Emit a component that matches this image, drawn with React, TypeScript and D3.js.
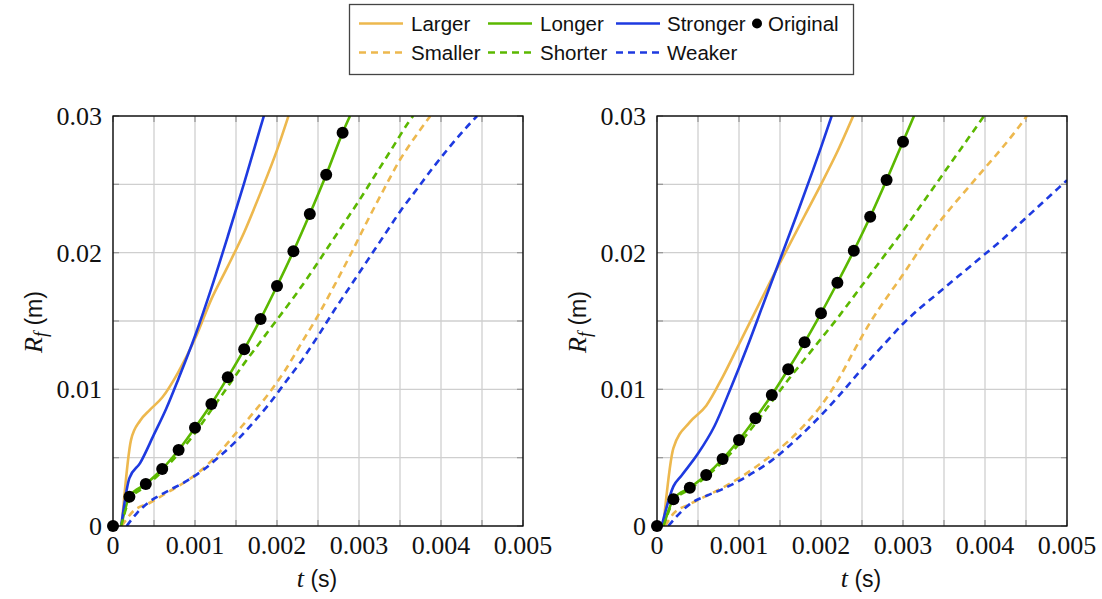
import React from "react";
import * as d3 from "d3";

type P = [number, number];

// ---------- data (t in s, R_f in m) ----------
const xTickValues = [0, 0.001, 0.002, 0.003, 0.004, 0.005];
const xTickLabels = ["0", "0.001", "0.002", "0.003", "0.004", "0.005"];
const yTickValues = [0, 0.01, 0.02, 0.03];
const yTickLabels = ["0", "0.01", "0.02", "0.03"];
const xGridValues = [0, 0.0005, 0.001, 0.0015, 0.002, 0.0025, 0.003, 0.0035, 0.004, 0.0045, 0.005];
const yGridValues = [0, 0.005, 0.01, 0.015, 0.02, 0.025, 0.03];

const seriesNames = ["Larger", "Longer", "Stronger", "Smaller", "Shorter", "Weaker"];

// left panel
const originalTimesL = [0, 0.0002, 0.0004, 0.0006, 0.0008, 0.001, 0.0012, 0.0014, 0.0016, 0.0018, 0.002, 0.0022, 0.0024, 0.0026, 0.0028];
const originalValuesL = [0, 0.00214, 0.00307, 0.00417, 0.00556, 0.00719, 0.00893, 0.01088, 0.01293, 0.01515, 0.01756, 0.0201, 0.02283, 0.0257, 0.02878];
const largerL: P[] = [[0.000106, 0], [0.00022, 0.0063], [0.00033, 0.0077], [0.00045, 0.0085], [0.0006, 0.0094], [0.0008, 0.0113], [0.001, 0.0137], [0.0012, 0.0166], [0.0014, 0.019], [0.0016, 0.0215], [0.0018, 0.0244], [0.002, 0.0275], [0.00214, 0.03]];
const longerL: P[] = [[0.0001, 0], [0.0002, 0.00214], [0.0004, 0.00307], [0.0006, 0.00417], [0.0008, 0.00556], [0.001, 0.00719], [0.0012, 0.00893], [0.0014, 0.01088], [0.0016, 0.01293], [0.0018, 0.01515], [0.002, 0.01756], [0.0022, 0.0201], [0.0024, 0.02283], [0.0026, 0.0257], [0.0028, 0.02878], [0.00289, 0.03]];
const strongerL: P[] = [[0.0001, 0], [0.0002, 0.0035], [0.00033, 0.0046], [0.0005, 0.0067], [0.00065, 0.0086], [0.0008, 0.0108], [0.001, 0.0139], [0.0012, 0.0174], [0.0014, 0.0212], [0.0016, 0.0251], [0.0018, 0.0292], [0.00184, 0.03]];
const smallerL: P[] = [[0.000106, 0], [0.00025, 0.0011], [0.00045, 0.0017], [0.00065, 0.0024], [0.0009, 0.0033], [0.0011, 0.0042], [0.0013, 0.0054], [0.0015, 0.0068], [0.0017, 0.0082], [0.0019, 0.0097], [0.0021, 0.0114], [0.0023, 0.0134], [0.0025, 0.0154], [0.0027, 0.0176], [0.0029, 0.0199], [0.0031, 0.0223], [0.0033, 0.0246], [0.0035, 0.0268], [0.0037, 0.0286], [0.00387, 0.03]];
const shorterL: P[] = [[0.0001, 0], [0.0002, 0.0019], [0.0004, 0.0029], [0.0006, 0.004], [0.0008, 0.0053], [0.001, 0.0068], [0.0012, 0.0085], [0.0014, 0.0102], [0.0016, 0.0119], [0.0018, 0.0135], [0.002, 0.0151], [0.0022, 0.0167], [0.0024, 0.0184], [0.0026, 0.0202], [0.0028, 0.022], [0.003, 0.0238], [0.0032, 0.0257], [0.0034, 0.0276], [0.0036, 0.0295], [0.00366, 0.03]];
const weakerL: P[] = [[0.000167, 0], [0.0003, 0.001], [0.00045, 0.0018], [0.00065, 0.0025], [0.0009, 0.0033], [0.0011, 0.0041], [0.0013, 0.0051], [0.0015, 0.0062], [0.0017, 0.0075], [0.0019, 0.0089], [0.0021, 0.0105], [0.0023, 0.0121], [0.0025, 0.0139], [0.0027, 0.0158], [0.0029, 0.0176], [0.0031, 0.0194], [0.0033, 0.0212], [0.0035, 0.023], [0.0037, 0.0246], [0.0039, 0.0262], [0.0041, 0.0277], [0.0043, 0.0291], [0.00444, 0.03]];

// right panel
const originalTimesR = [0, 0.0002, 0.0004, 0.0006, 0.0008, 0.001, 0.0012, 0.0014, 0.0016, 0.0018, 0.002, 0.0022, 0.0024, 0.0026, 0.0028, 0.003];
const originalValuesR = [0, 0.00195, 0.0028, 0.00373, 0.0049, 0.00629, 0.00788, 0.00959, 0.01147, 0.01344, 0.01556, 0.0178, 0.02014, 0.02263, 0.02532, 0.02812];
const largerR: P[] = [[0.000077, 0], [0.0002, 0.0057], [0.0004, 0.0076], [0.0006, 0.0088], [0.0008, 0.0109], [0.001, 0.0133], [0.0012, 0.0157], [0.0014, 0.0181], [0.0016, 0.0204], [0.0018, 0.0227], [0.002, 0.025], [0.0022, 0.0274], [0.0024, 0.0301]];
const longerR: P[] = [[0.00008, 0], [0.0002, 0.00195], [0.0004, 0.0028], [0.0006, 0.00373], [0.0008, 0.0049], [0.001, 0.00629], [0.0012, 0.00788], [0.0014, 0.00959], [0.0016, 0.01147], [0.0018, 0.01344], [0.002, 0.01556], [0.0022, 0.0178], [0.0024, 0.02014], [0.0026, 0.02263], [0.0028, 0.02532], [0.003, 0.02812], [0.003134, 0.03]];
const strongerR: P[] = [[0.000057, 0], [0.0002, 0.0029], [0.0003, 0.0037], [0.0005, 0.0053], [0.0007, 0.0073], [0.0009, 0.0101], [0.0011, 0.0131], [0.0013, 0.0163], [0.0015, 0.0195], [0.0017, 0.0227], [0.0019, 0.026], [0.002, 0.0277], [0.00213, 0.03]];
const smallerR: P[] = [[0.0001, 0], [0.0002, 0.0009], [0.0004, 0.0016], [0.0006, 0.0022], [0.0008, 0.0028], [0.001, 0.0035], [0.0012, 0.0043], [0.0014, 0.0052], [0.0016, 0.0062], [0.0018, 0.0074], [0.002, 0.0088], [0.0022, 0.0106], [0.0024, 0.0128], [0.0026, 0.0149], [0.0028, 0.0167], [0.003, 0.0184], [0.0032, 0.0202], [0.0034, 0.0219], [0.0036, 0.0234], [0.0038, 0.0248], [0.004, 0.0262], [0.0042, 0.0276], [0.0044, 0.0291], [0.00451, 0.03]];
const shorterR: P[] = [[0.00008, 0], [0.0002, 0.0018], [0.0004, 0.0027], [0.0006, 0.0036], [0.0008, 0.0047], [0.001, 0.006], [0.0012, 0.0075], [0.0014, 0.0091], [0.0016, 0.0107], [0.0018, 0.0122], [0.002, 0.0137], [0.0022, 0.0152], [0.0024, 0.0168], [0.0026, 0.0184], [0.0028, 0.02], [0.003, 0.0216], [0.0032, 0.0233], [0.0034, 0.025], [0.0036, 0.0267], [0.0038, 0.0284], [0.004, 0.0301]];
const weakerR: P[] = [[0.000138, 0], [0.00024, 0.0007], [0.0004, 0.0016], [0.0006, 0.0022], [0.0008, 0.0027], [0.001, 0.0033], [0.0012, 0.004], [0.0014, 0.0048], [0.0016, 0.0058], [0.0018, 0.0069], [0.002, 0.0081], [0.0022, 0.0094], [0.0024, 0.0108], [0.0026, 0.0122], [0.0028, 0.0135], [0.003, 0.0148], [0.0032, 0.0159], [0.0034, 0.0169], [0.0036, 0.0179], [0.0038, 0.0189], [0.004, 0.0199], [0.0042, 0.0209], [0.0044, 0.022], [0.0046, 0.0231], [0.0048, 0.0242], [0.005, 0.0253]];

// ---------- styles ----------
const YELLOW = "#EDB84E";
const GREEN = "#5BB800";
const BLUE = "#1E3AE0";
const colors = [YELLOW, GREEN, BLUE, YELLOW, GREEN, BLUE];
const dashed = [false, false, false, true, true, true];

const SERIF = "'Liberation Serif', 'Times New Roman', serif";
const SANS = "'Liberation Sans', Arial, sans-serif";

const TOP = 116;
const BOTTOM = 526;
const PW = 410;

interface PanelProps {
  id: string;
  x0: number;
  series: P[][];
  times: number[];
  values: number[];
}

function Panel({ id, x0, series, times, values }: PanelProps) {
  const x = d3.scaleLinear().domain([0, 0.005]).range([x0, x0 + PW]);
  const y = d3.scaleLinear().domain([0, 0.03]).range([BOTTOM, TOP]);
  const line = d3
    .line<P>()
    .x((d) => x(d[0]))
    .y((d) => y(d[1]))
    .curve(d3.curveMonotoneX);
  const clipId = `clip-${id}`;
  const tickLen = 6;
  return (
    <g>
      <defs>
        <clipPath id={clipId}>
          <rect x={x0} y={TOP} width={PW} height={BOTTOM - TOP} />
        </clipPath>
      </defs>
      {/* grid */}
      {xGridValues.map((v, i) => (
        <line key={"gx" + i} x1={x(v)} x2={x(v)} y1={TOP} y2={BOTTOM} stroke="#cfcfcf" strokeWidth={1.3} />
      ))}
      {yGridValues.map((v, i) => (
        <line key={"gy" + i} x1={x0} x2={x0 + PW} y1={y(v)} y2={y(v)} stroke="#cfcfcf" strokeWidth={1.3} />
      ))}
      {/* inner ticks */}
      {xGridValues.map((v, i) => (
        <g key={"tx" + i}>
          <line x1={x(v)} x2={x(v)} y1={BOTTOM} y2={BOTTOM - tickLen} stroke="#999" strokeWidth={1.3} />
          <line x1={x(v)} x2={x(v)} y1={TOP} y2={TOP + tickLen} stroke="#999" strokeWidth={1.3} />
        </g>
      ))}
      {yGridValues.map((v, i) => (
        <g key={"ty" + i}>
          <line x1={x0} x2={x0 + tickLen} y1={y(v)} y2={y(v)} stroke="#999" strokeWidth={1.3} />
          <line x1={x0 + PW} x2={x0 + PW - tickLen} y1={y(v)} y2={y(v)} stroke="#999" strokeWidth={1.3} />
        </g>
      ))}
      {/* series */}
      <g clipPath={`url(#${clipId})`}>
        {series.map((s, i) => (
          <path
            key={"s" + i}
            d={line(s) || ""}
            fill="none"
            stroke={colors[i]}
            strokeWidth={2.6}
            strokeDasharray={dashed[i] ? "7,5" : undefined}
          />
        ))}
      </g>
      {/* frame */}
      <rect x={x0} y={TOP} width={PW} height={BOTTOM - TOP} fill="none" stroke="#000" strokeWidth={1.3} />
      {/* original markers */}
      {times.map((t, i) => (
        <circle key={"o" + i} cx={x(t)} cy={y(values[i])} r={6} fill="#000" />
      ))}
      {/* tick labels */}
      {xTickValues.map((v, i) => (
        <text key={"xl" + i} x={x(v)} y={BOTTOM + 28} textAnchor="middle" fontFamily={SERIF} fontSize={26} fill="#111">
          {xTickLabels[i]}
        </text>
      ))}
      {yTickValues.map((v, i) => (
        <text key={"yl" + i} x={x0 - 11} y={y(v) + 9} textAnchor="end" fontFamily={SERIF} fontSize={26} fill="#111">
          {yTickLabels[i]}
        </text>
      ))}
      {/* axis labels */}
      <text x={x0 + 204} y={587} textAnchor="middle" fill="#111">
        <tspan fontFamily={SERIF} fontStyle="italic" fontSize={26}>t</tspan>
        <tspan fontFamily={SANS} fontSize={23}> (s)</tspan>
      </text>
      <text transform={`translate(${x0 - 71},${322}) rotate(-90)`} textAnchor="middle" fill="#111">
        <tspan fontFamily={SERIF} fontStyle="italic" fontSize={26}>R</tspan>
        <tspan fontFamily={SERIF} fontStyle="italic" fontSize={18} dy={5}>f</tspan>
        <tspan fontFamily={SANS} fontSize={23} dy={-5}> (m)</tspan>
      </text>
    </g>
  );
}

function Legend() {
  const row1 = 23.5;
  const row2 = 52.5;
  const fs = 20.5;
  const entries = [
    { name: seriesNames[0], lx: 359, tx: 411, y: row1, c: YELLOW, dash: false },
    { name: seriesNames[1], lx: 488, tx: 540, y: row1, c: GREEN, dash: false },
    { name: seriesNames[2], lx: 616, tx: 667, y: row1, c: BLUE, dash: false },
    { name: seriesNames[3], lx: 359, tx: 411, y: row2, c: YELLOW, dash: true },
    { name: seriesNames[4], lx: 488, tx: 540, y: row2, c: GREEN, dash: true },
    { name: seriesNames[5], lx: 616, tx: 667, y: row2, c: BLUE, dash: true },
  ];
  return (
    <g>
      <rect x={349.5} y={4.5} width={504} height={70} fill="#fff" stroke="#444" strokeWidth={1.3} />
      {entries.map((e, i) => (
        <g key={i}>
          <line x1={e.lx} x2={e.lx + 44} y1={e.y} y2={e.y} stroke={e.c} strokeWidth={2.6} strokeDasharray={e.dash ? "7,5" : undefined} />
          <text x={e.tx} y={e.y + 7} fontFamily={SANS} fontSize={fs} fill="#111">
            {e.name}
          </text>
        </g>
      ))}
      <circle cx={757} cy={row1} r={5} fill="#000" />
      <text x={768} y={row1 + 7} fontFamily={SANS} fontSize={fs} fill="#111">
        Original
      </text>
    </g>
  );
}

export default function App() {
  return (
    <svg
      width={1102}
      height={599}
      viewBox="0 0 1102 599"
      style={{ position: "absolute", left: 0, top: 0, background: "#fff" }}
    >
      <rect x={0} y={0} width={1102} height={599} fill="#fff" />
      <Legend />
      <Panel
        id="left"
        x0={113}
        series={[largerL, longerL, strongerL, smallerL, shorterL, weakerL]}
        times={originalTimesL}
        values={originalValuesL}
      />
      <Panel
        id="right"
        x0={657}
        series={[largerR, longerR, strongerR, smallerR, shorterR, weakerR]}
        times={originalTimesR}
        values={originalValuesR}
      />
    </svg>
  );
}
